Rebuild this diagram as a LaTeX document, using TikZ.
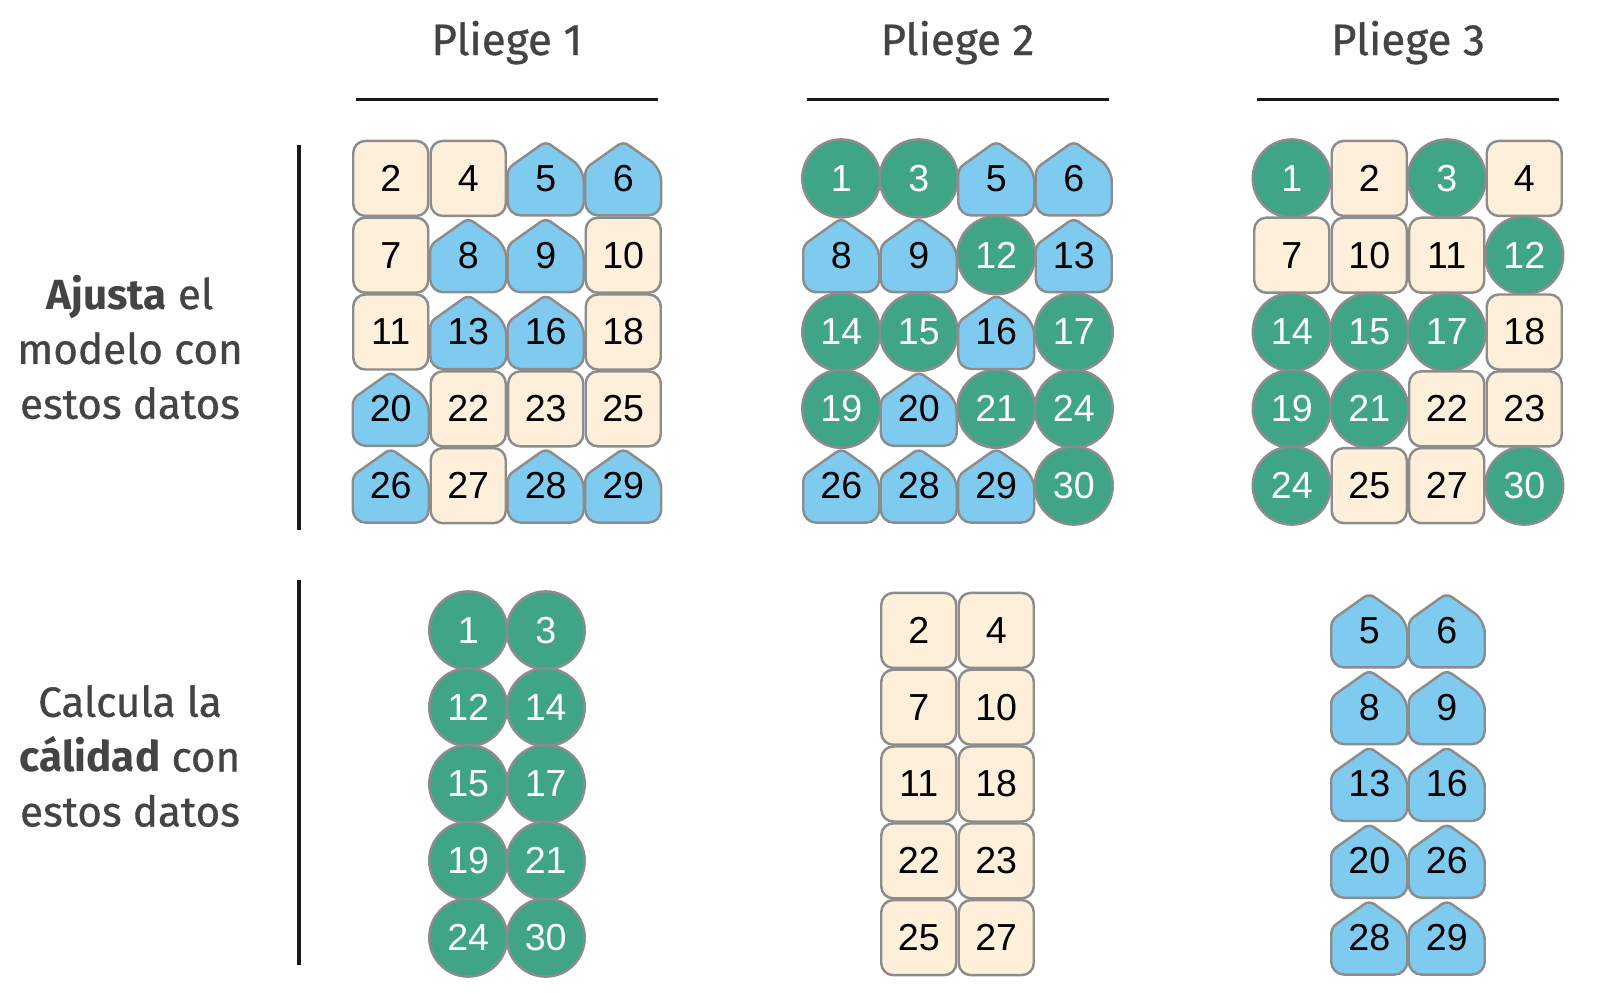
\documentclass[tikz,border=0pt]{standalone}
\usepackage{fontspec}
\setmainfont{Fira Sans}[FakeBold=0.8, BoldFeatures={FakeBold=0}]
\newfontfamily\cellfont{Liberation Sans}
\usetikzlibrary{positioning}

\definecolor{foldgreen}{HTML}{40A486}
\definecolor{foldcream}{HTML}{FDEFDA}
\definecolor{foldblue}{HTML}{7FCBF0}
\definecolor{cellborder}{HTML}{8C8C8C}
\definecolor{labelgray}{HTML}{444444}

\begin{document}
\begin{tikzpicture}[
    % Styles
    cell/.style={ % Common look of every data point
        minimum size=0.75cm,
        inner sep=0pt,
        font=\cellfont\fontsize{10.7}{12}\selectfont
    },
    cell c/.style={ % Cream rounded square
        cell,
        rectangle,
        rounded corners=0.12cm,
        draw=cellborder,
        line width=0.7pt,
        fill=foldcream
    },
    cell g/.style={ % Green disc
        cell,
        circle,
        minimum size=0.78cm,
        draw=cellborder,
        line width=0.7pt,
        fill=foldgreen,
        text=white
    },
    cell b/.style={ % Blue house
        cell,
        rectangle,
        minimum size=0.84cm,
        path picture={
            \draw[draw=cellborder, line width=0.7pt, fill=foldblue, rounded corners=0.13cm]
                (path picture bounding box.center) ++(0,-0.37cm) -- ++(0.38cm,0) -- ++(0,0.47cm)
                [rounded corners=0.06cm] -- ++(-0.38cm,0.27cm) -- ++(-0.38cm,-0.27cm)
                [rounded corners=0.13cm] -- ++(0,-0.47cm) -- cycle;
        }
    },
    header/.style={ % Fold title
        anchor=base,
        text=labelgray,
        font=\fontsize{12.5}{15}\selectfont
    },
    side label/.style={ % Row titles on the left
        align=center,
        text=labelgray,
        font=\fontsize{12}{15.6}\selectfont
    },
    rule/.style={
        line width=0.9pt,
        black!90
    }
]
    \useasboundingbox (0,0) rectangle (16.07,-9.92);

    % Fold titles
    \node[header] (head1) at (5.07,-0.55) {Pliege 1};
    \node[header] (head2) at (9.575,-0.55) {Pliege 2};
    \node[header] (head3) at (14.08,-0.55) {Pliege 3};
    \draw[rule] (3.56,-0.995) -- (6.58,-0.995);
    \draw[rule] (8.065,-0.995) -- (11.085,-0.995);
    \draw[rule] (12.57,-0.995) -- (15.59,-0.995);

    % Row titles
    \node[side label] (fitlabel) at (1.30,-3.47) {\textbf{Ajusta} el\\modelo con\\estos datos};
    \node[side label] (testlabel) at (1.30,-7.56) {Calcula la\\\textbf{cálidad} con\\estos datos};
    \draw[rule] (2.99,-1.45) -- (2.99,-5.30);
    \draw[rule] (2.99,-5.80) -- (2.99,-9.65);

    % Data used to fit the model
    \foreach \f/\cells in {
        0/{2/c,4/c,5/b,6/b,7/c,8/b,9/b,10/c,11/c,13/b,16/b,18/c,20/b,22/c,23/c,25/c,26/b,27/c,28/b,29/b},
        1/{1/g,3/g,5/b,6/b,8/b,9/b,12/g,13/b,14/g,15/g,16/b,17/g,19/g,20/b,21/g,24/g,26/b,28/b,29/b,30/g},
        2/{1/g,2/c,3/g,4/c,7/c,10/c,11/c,12/g,14/g,15/g,17/g,18/c,19/g,21/g,22/c,23/c,24/g,25/c,27/c,30/g}} {
        \foreach \n/\t [count=\i from 0] in \cells {
            \pgfmathsetmacro\cx{3.9075+4.505*\f+0.775*mod(\i,4)}
            \pgfmathsetmacro\cy{-1.784-0.768*floor(\i/4)}
            \node[cell \t] (fit\f-\n) at (\cx,\cy) {\n};
        }
    }

    % Data used to measure the quality
    \foreach \f/\t/\cells in {
        0/g/{1,3,12,14,15,17,19,21,24,30},
        1/c/{2,4,7,10,11,18,22,23,25,27},
        2/b/{5,6,8,9,13,16,20,26,28,29}} {
        \foreach \n [count=\i from 0] in \cells {
            \pgfmathsetmacro\cx{4.6825+4.505*\f+0.775*mod(\i,2)}
            \pgfmathsetmacro\cy{-6.304-0.768*floor(\i/2)}
            \node[cell \t] (test\f-\n) at (\cx,\cy) {\n};
        }
    }
\end{tikzpicture}
\end{document}
